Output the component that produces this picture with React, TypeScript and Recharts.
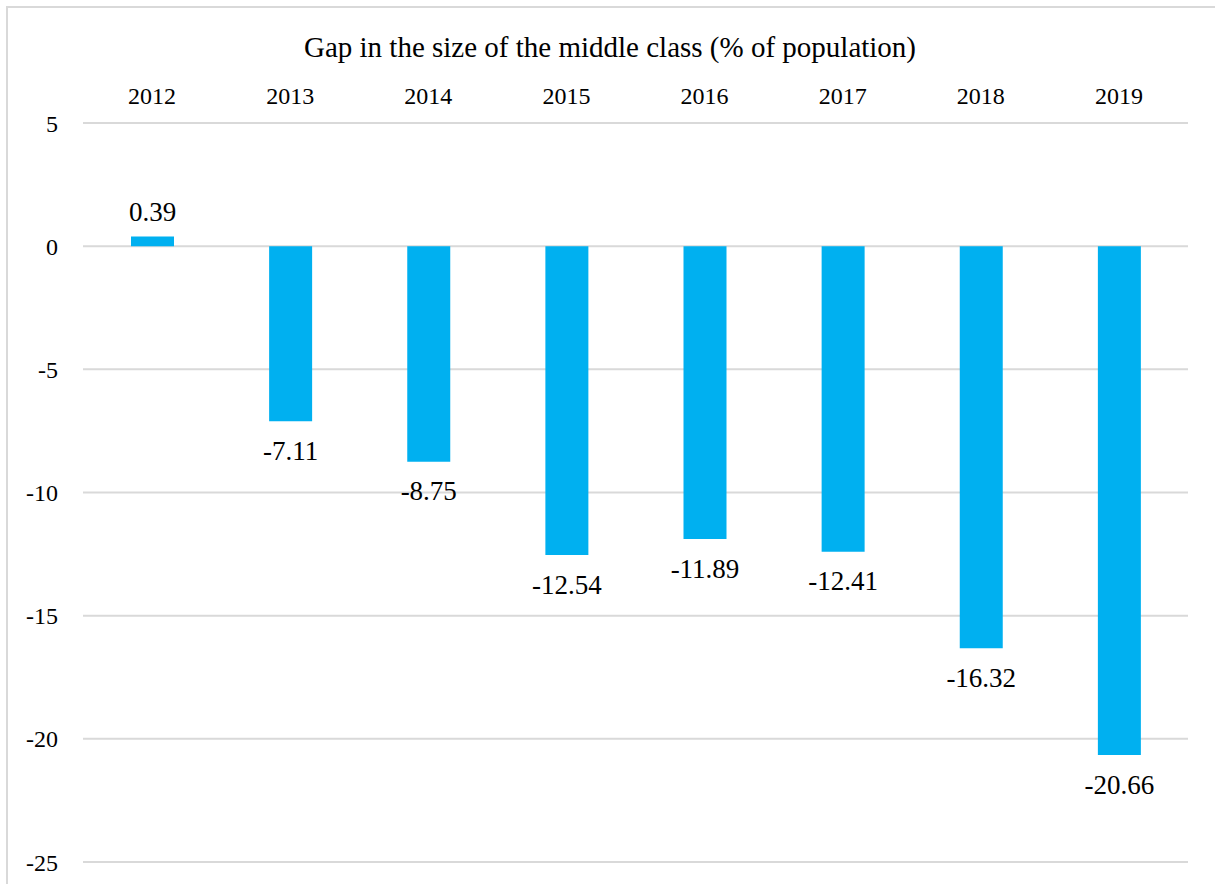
import { BarChart, Bar, XAxis, YAxis, CartesianGrid, LabelList } from "recharts"

const years = ["2012", "2013", "2014", "2015", "2016", "2017", "2018", "2019"]
const gapValues = [0.39, -7.11, -8.75, -12.54, -11.89, -12.41, -16.32, -20.66]
const yTicks = [5, 0, -5, -10, -15, -20, -25]

const FONT = "Liberation Serif, Times New Roman, serif"

const data = years.map((year, i) => ({ year, gap: gapValues[i] }))

function ValueLabel(props: any) {
  const { x, y, width, height, value } = props
  const top = Math.min(y, y + height)
  const bottom = Math.max(y, y + height)
  const cx = x + width / 2
  const cy = value < 0 ? bottom + 29 : top - 25
  return (
    <text x={cx} y={cy} dy="0.35em" textAnchor="middle" style={{ fontSize: 27, fontFamily: FONT }} fill="#000">
      {value.toFixed(2)}
    </text>
  )
}

export default function App() {
  return (
    <div style={{ position: "absolute", left: 0, top: 0, width: 1215, height: 884, overflow: "hidden", background: "#fff", fontFamily: FONT }}>
      <div
        style={{
          position: "absolute",
          left: 6,
          top: 6,
          width: 1240,
          height: 920,
          border: "2px solid #d9d9d9",
          boxSizing: "border-box",
        }}
      />
      <div
        style={{
          position: "absolute",
          left: 0,
          width: 1220,
          top: 29,
          textAlign: "center",
          fontFamily: FONT,
          fontSize: 29,
          lineHeight: "36px",
          color: "#000",
        }}
      >
        Gap in the size of the middle class (% of population)
      </div>
      <div style={{ position: "absolute", left: 0, top: 0 }}>
        <BarChart width={1215} height={884} data={data} margin={{ top: 73, right: 27, bottom: 22, left: 0 }} style={{ fontFamily: FONT }}>
          <CartesianGrid vertical={false} stroke="#d9d9d9" strokeWidth={2} />
          <XAxis
            dataKey="year"
            orientation="top"
            height={50}
            axisLine={false}
            tickLine={false}
            tickMargin={13}
            tick={{ fontSize: 24, fontFamily: FONT, fill: "#000" }}
          />
          <YAxis
            width={83}
            domain={[-25, 5]}
            ticks={yTicks}
            axisLine={false}
            tickLine={false}
            tickMargin={19}
            tick={{ fontSize: 24, fontFamily: FONT, fill: "#000" }}
          />
          <Bar dataKey="gap" fill="#00b0f0" barSize={43} isAnimationActive={false}>
            <LabelList dataKey="gap" content={ValueLabel} />
          </Bar>
        </BarChart>
      </div>
    </div>
  )
}
